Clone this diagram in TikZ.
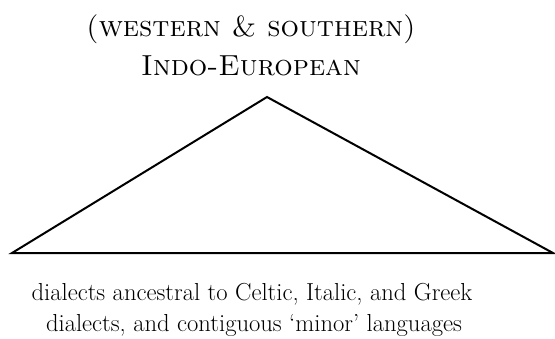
\documentclass[tikz,border=0pt]{standalone}
\begin{document}
\begin{tikzpicture}[x=1pt,y=-1pt,
  tri/.style={draw=black,line width=2pt,line join=miter},
  ttl/.style={font=\fontsize{29}{34}\selectfont,inner sep=0pt,anchor=base},
  captext/.style={font=\fontsize{24.6}{31}\selectfont,inner sep=0pt,anchor=base}]
\useasboundingbox (0,0) rectangle (555,338);
\coordinate (apex) at (267,97);
\coordinate (bl) at (12,253);
\coordinate (br) at (553,253);
\draw[tri] (apex) -- (bl) -- (br) -- cycle;
\node[ttl] (t1) at (251,36) {\textsc{(western \& southern)}};
\node[ttl] (t2) at (251,75) {\textsc{Indo-European}};
\node[captext] (c1) at (252,300) {dialects ancestral to Celtic, Italic, and Greek};
\node[captext] (c2) at (254,331) {dialects, and contiguous `minor' languages};
\end{tikzpicture}
\end{document}
